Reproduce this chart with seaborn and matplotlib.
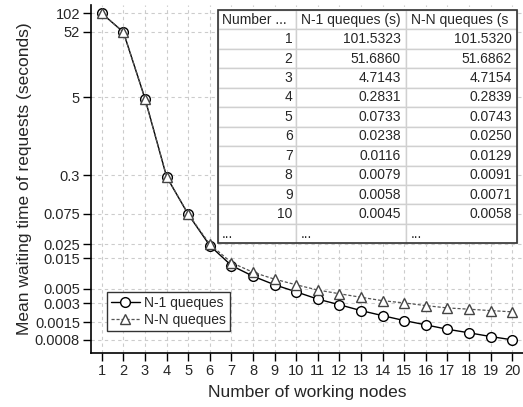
import matplotlib
matplotlib.use("Agg")
import matplotlib.pyplot as plt
import seaborn as sns
import pandas as pd
import numpy as np
from matplotlib.patches import Rectangle

nodes = list(range(1, 21))
n1_queues = [101.5323, 51.6860, 4.7143, 0.2831, 0.0733, 0.0238, 0.0116, 0.0079, 0.0058, 0.0045,
             0.00346, 0.00283, 0.00229, 0.00191, 0.00160, 0.00137, 0.00117, 0.00103, 0.00090, 0.00080]
nn_queues = [101.5320, 51.6862, 4.7154, 0.2839, 0.0743, 0.0250, 0.0129, 0.0091, 0.0071, 0.0058,
             0.0048, 0.0042, 0.0037, 0.00327, 0.00302, 0.00274, 0.00252, 0.00241, 0.00229, 0.00219]
y_ticks = [102, 52, 5, 0.3, 0.075, 0.025, 0.015, 0.005, 0.003, 0.0015, 0.0008]
y_tick_labels = ["102", "52", "5", "0.3", "0.075", "0.025", "0.015", "0.005", "0.003", "0.0015", "0.0008"]
table_header = ["Number ...", "N-1 queques (s)", "N-N queques (s"]
table_rows = 10

sns.set_style("white")
plt.rcParams['font.family'] = ['Liberation Sans', 'DejaVu Sans']

df = pd.DataFrame({"nodes": nodes, "N-1 queques": n1_queues, "N-N queques": nn_queues})

fig = plt.figure(figsize=(5.23, 4.07), dpi=100)
ax = fig.add_axes([0.174, 0.1334, 0.826, 0.855])

sns.lineplot(data=df, x="nodes", y="N-1 queques", ax=ax, color="black", linewidth=1.0,
             marker="o", markersize=7, markerfacecolor="white", markeredgecolor="black",
             markeredgewidth=1.0, label="N-1 queques", zorder=3)
sns.lineplot(data=df, x="nodes", y="N-N queques", ax=ax, color="#555555", linewidth=0.9,
             linestyle=(0, (2.5, 1.5)), marker="^", markersize=7.5, markerfacecolor="white",
             markeredgecolor="#444444", markeredgewidth=1.0, label="N-N queques", zorder=4)

ax.set_yscale("log")
ax.set_xlim(0.5, 20.5)
ax.set_ylim(0.000503, 138.6)
ax.set_xticks(nodes)
ax.set_xticklabels([str(n) for n in nodes])
ax.set_yticks(y_ticks)
ax.set_yticklabels(y_tick_labels)
ax.yaxis.set_minor_locator(matplotlib.ticker.NullLocator())
ax.tick_params(axis="both", which="major", direction="out", length=6, width=1.0,
               color="black", labelsize=10.5, pad=2, left=True, bottom=True)

ax.grid(True, which="major", color="#cccccc", linestyle=(0, (3, 3)), linewidth=0.8)
ax.set_axisbelow(True)
for s in ["top", "right"]:
    ax.spines[s].set_visible(False)
for s in ["left", "bottom"]:
    ax.spines[s].set_color("black")
    ax.spines[s].set_linewidth(1.2)

ax.set_xlabel("Number of working nodes", fontsize=12.5, labelpad=5)
ax.set_ylabel("Mean waiting time of requests (seconds)", fontsize=12.5, labelpad=2)

leg = ax.legend(loc="lower left", bbox_to_anchor=(0.036, 0.063), borderaxespad=0,
                fontsize=10, frameon=True, fancybox=False, handlelength=2.1,
                handletextpad=0.3, borderpad=0.3, labelspacing=0.2)
leg.get_frame().set_edgecolor("#333333")
leg.get_frame().set_linewidth(1.0)
leg.get_frame().set_alpha(1)
leg.set_zorder(12)

# table
cells = []
for i in range(table_rows):
    cells.append([str(nodes[i]), f"{n1_queues[i]:.4f}", f"{nn_queues[i]:.4f}"])
cells.append(["...", "...", "..."])
tx0, ty0, tw, th = 0.2947, 0.3144, 0.6907, 0.6704
col_w = [77.7 / 298.4, 110.0 / 298.4, 110.7 / 298.4]
tab = ax.table(cellText=cells, colLabels=table_header, bbox=[tx0, ty0, tw, th],
               colWidths=col_w, cellLoc="right", colLoc="left", zorder=10)
tab.auto_set_font_size(False)
tab.set_fontsize(10)
for (r, c), cell in tab.get_celld().items():
    cell.set_edgecolor("#d0d0d0")
    cell.set_linewidth(1.0)
    cell.set_facecolor("white")
    cell.PAD = 0.045
    if r == len(cells):
        cell.get_text().set_ha("left")
        cell._loc = "left"
tab.set_zorder(10)
ax.add_patch(Rectangle((tx0, ty0), tw, th, transform=ax.transAxes, fill=False,
                       edgecolor="#333333", linewidth=1.2, zorder=11))

fig.savefig("out.png", dpi=100)
